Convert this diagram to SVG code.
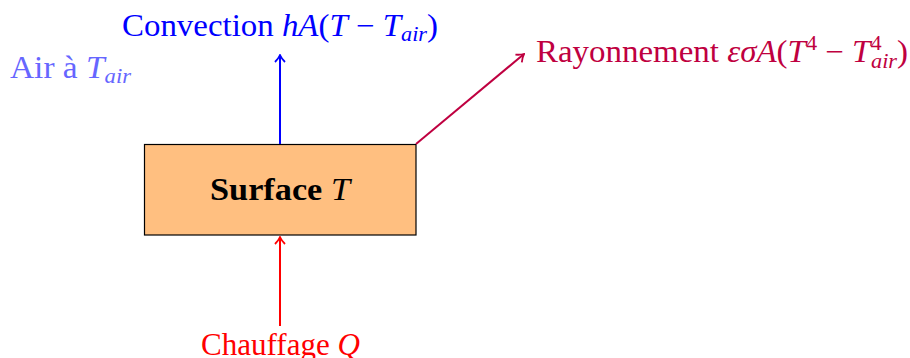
<svg xmlns="http://www.w3.org/2000/svg" width="910" height="358" viewBox="0 0 910 358">
<style>
text{font-family:"Liberation Serif","DejaVu Serif",serif;font-size:31px}
.m{font-style:italic}
.sub{font-size:21px;font-style:italic}
.sup{font-size:21px}
.conv{fill:#0000FF}
.air{fill:#6666FF}
.ray{fill:#BF0040}
.chauf{fill:#FF0000}
</style>
<defs>
<marker id="ahb" viewBox="0 0 10 12" refX="9" refY="6" markerWidth="10" markerHeight="12" markerUnits="userSpaceOnUse" orient="auto">
<path d="M2,1 Q5.5,4.5 9,6 Q5.5,7.5 2,11" fill="none" stroke="#0000FF" stroke-width="1.8"/>
</marker>
<marker id="ahr" viewBox="0 0 10 12" refX="9" refY="6" markerWidth="10" markerHeight="12" markerUnits="userSpaceOnUse" orient="auto">
<path d="M2,1 Q5.5,4.5 9,6 Q5.5,7.5 2,11" fill="none" stroke="#FF0000" stroke-width="1.8"/>
</marker>
<marker id="ahp" viewBox="0 0 10 12" refX="9" refY="6" markerWidth="10" markerHeight="12" markerUnits="userSpaceOnUse" orient="auto">
<path d="M2,1 Q5.5,4.5 9,6 Q5.5,7.5 2,11" fill="none" stroke="#BF0040" stroke-width="1.8"/>
</marker>
</defs>
<g id="surface">
<rect x="144.5" y="144.5" width="271.5" height="90.5" fill="#FFBF80" stroke="#000" stroke-width="1.2"/>
<text x="210" y="200" textLength="140" lengthAdjust="spacingAndGlyphs"><tspan font-weight="bold">Surface </tspan><tspan class="m">T</tspan></text>
</g>
<g id="convection">
<text class="conv" x="122" y="36" textLength="316" lengthAdjust="spacingAndGlyphs">Convection <tspan class="m">hA</tspan>(<tspan class="m">T</tspan> − <tspan class="m">T</tspan><tspan class="sub" dy="5">air</tspan><tspan dy="-5">)</tspan></text>
</g>
<g id="air">
<text class="air" x="10" y="78" textLength="121" lengthAdjust="spacingAndGlyphs">Air à <tspan class="m">T</tspan><tspan class="sub" dy="5">air</tspan></text>
</g>
<g id="rayonnement">
<text class="ray" x="536" y="62" textLength="372" lengthAdjust="spacingAndGlyphs">Rayonnement <tspan class="m">εσA</tspan>(<tspan class="m">T</tspan><tspan class="sup" dy="-12">4</tspan><tspan dy="12"> − </tspan><tspan class="m">T</tspan><tspan class="sup" dy="-12">4</tspan><tspan class="sub" dx="-10" dy="18">air</tspan><tspan dy="-6">)</tspan></text>
</g>
<g id="chauffage">
<text class="chauf" x="201" y="355" textLength="159" lengthAdjust="spacingAndGlyphs">Chauffage <tspan class="m">Q</tspan></text>
</g>
<g id="connectors" fill="none" stroke-width="2">
<line x1="280" y1="144" x2="280" y2="55" stroke="#0000FF" marker-end="url(#ahb)"/>
<line x1="280" y1="326" x2="280" y2="237" stroke="#FF0000" marker-end="url(#ahr)"/>
<line x1="416" y1="144" x2="524" y2="54" stroke="#BF0040" marker-end="url(#ahp)"/>
</g>
</svg>
